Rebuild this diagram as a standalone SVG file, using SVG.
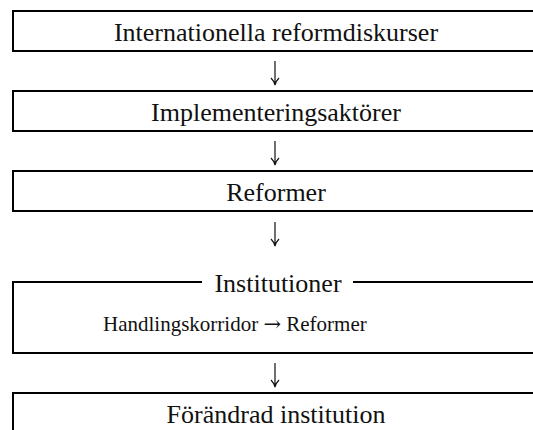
<svg xmlns="http://www.w3.org/2000/svg" width="533" height="430" viewBox="0 0 533 430">
<style>
.box{fill:none;stroke:#000;stroke-width:2}
.t{font-family:"Liberation Serif","Times New Roman",serif;font-size:26px;fill:#111;text-anchor:middle}
.s{font-family:"Liberation Serif","Times New Roman",serif;font-size:21px;fill:#111}
.ar{font-family:"DejaVu Serif","Liberation Serif",serif;font-size:21px}
.c{fill:none;stroke:#111;stroke-width:1.2}
</style>
<rect width="533" height="430" fill="#fff"/>
<g id="n1"><rect class="box" x="13" y="11" width="560" height="40"/><text class="t" x="276" y="41">Internationella reformdiskurser</text></g>
<g id="n2"><rect class="box" x="13" y="91" width="560" height="40"/><text class="t" x="276" y="121">Implementeringsaktörer</text></g>
<g id="n3"><rect class="box" x="13" y="171" width="560" height="40"/><text class="t" x="276" y="201">Reformer</text></g>
<g id="n4"><path class="box" d="M202,282 H13 V353 H573 M353,282 H573"/><text class="t" x="278" y="292">Institutioner</text><text class="s" x="103" y="331">Handlingskorridor <tspan class="ar">→</tspan> Reformer</text></g>
<g id="n5"><rect class="box" x="13" y="393" width="560" height="60"/><text class="t" x="276" y="423">Förändrad institution</text></g>
<g id="connectors">
<path class="c" d="M275,61 V85 M271,78 Q274,81 275,85 Q276,81 279,78"/>
<path class="c" d="M275,141 V165 M271,158 Q274,161 275,165 Q276,161 279,158"/>
<path class="c" d="M275,222 V246 M271,239 Q274,242 275,246 Q276,242 279,239"/>
<path class="c" d="M275,363 V387 M271,380 Q274,383 275,387 Q276,383 279,380"/>
</g>
</svg>
